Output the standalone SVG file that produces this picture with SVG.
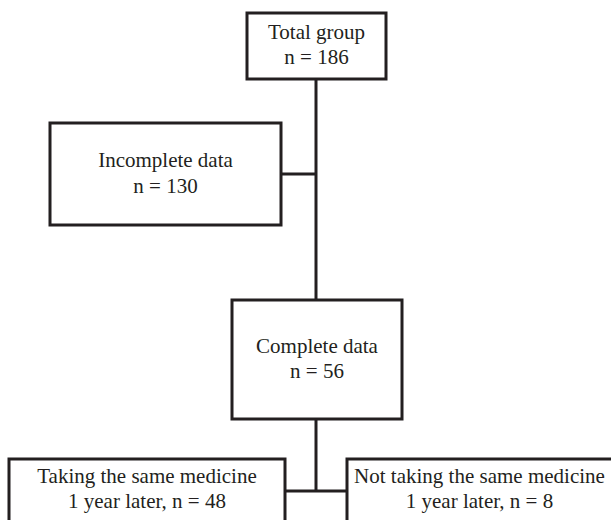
<svg xmlns="http://www.w3.org/2000/svg" width="611" height="520" viewBox="0 0 611 520">
<style>
.box{fill:#fff;stroke:#231f20;stroke-width:3}
.ln{stroke:#231f20;stroke-width:3;fill:none}
text{font-family:"Liberation Serif","Times New Roman",serif;font-size:21px;fill:#231f20;text-anchor:middle}
</style>
<rect width="611" height="520" fill="#fff"/>
<g id="connectors">
<line class="ln" x1="316" y1="79" x2="316" y2="300"/>
<line class="ln" x1="281" y1="174" x2="316" y2="174"/>
<line class="ln" x1="316" y1="419" x2="316" y2="491"/>
<line class="ln" x1="285" y1="491" x2="347" y2="491"/>
</g>
<g id="total">
<rect class="box" x="247" y="13" width="139" height="66"/>
<text x="316.5" y="39">Total group</text>
<text x="316.5" y="64">n = 186</text>
</g>
<g id="incomplete">
<rect class="box" x="50" y="123" width="231" height="102"/>
<text x="165.5" y="167">Incomplete data</text>
<text x="165.5" y="193">n = 130</text>
</g>
<g id="complete">
<rect class="box" x="232" y="300" width="170" height="119"/>
<text x="317" y="353">Complete data</text>
<text x="317" y="378">n = 56</text>
</g>
<g id="taking">
<rect class="box" x="9" y="459" width="276" height="90"/>
<text x="147" y="483">Taking the same medicine</text>
<text x="147" y="508">1 year later, n = 48</text>
</g>
<g id="nottaking">
<rect class="box" x="347" y="459" width="280" height="90"/>
<text x="479.5" y="483">Not taking the same medicine</text>
<text x="479.5" y="508">1 year later, n = 8</text>
</g>
</svg>
